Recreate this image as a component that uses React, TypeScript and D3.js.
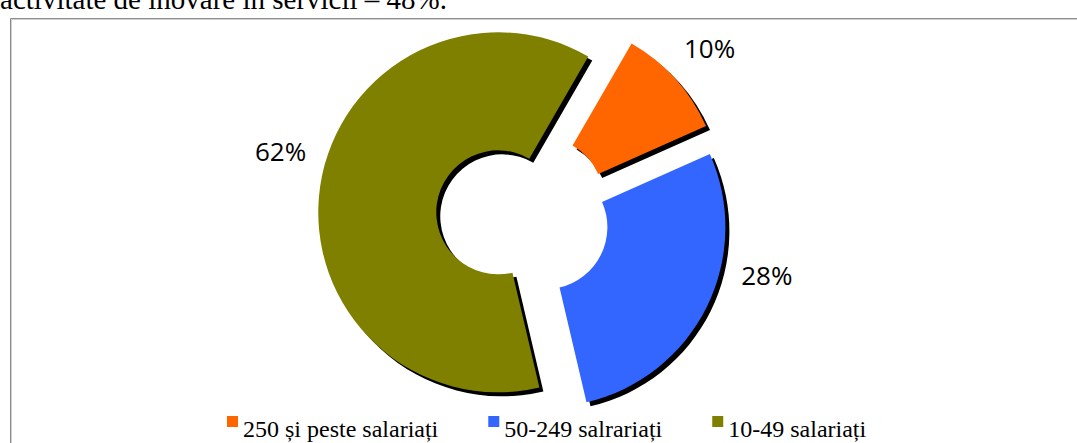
import React, { useEffect, useRef } from "react";
import * as d3 from "d3";

const categories = ["250 și peste salariați", "50-249 salrariați", "10-49 salariați"];
const values = [10, 28, 62];
const labels = ["10%", "28%", "62%"];
const colors = ["#FF6600", "#3366FF", "#808000"];
const labelAngleShift = [0, -12.7, 6.6];
const topText = "activitate de inovare în servicii – 48%.";

const W = 1077;
const H = 443;
const cx = 523;
const cy = 216;
const outerR = 180;
const innerR = 62;
const explode = 25;
const labelR = 251;
const startDeg = 30;

export default function App() {
  const ref = useRef<SVGSVGElement>(null);

  useEffect(() => {
    const svg = d3.select(ref.current);
    svg.selectAll("*").remove();

    const defs = svg.append("defs");
    const f = defs.append("filter").attr("id", "blurS").attr("x", "-10%").attr("y", "-10%").attr("width", "120%").attr("height", "120%");
    f.append("feGaussianBlur").attr("stdDeviation", 0.7);

    // top cut-off text
    svg.append("text")
      .attr("x", 447).attr("y", 9)
      .attr("text-anchor", "end")
      .attr("font-family", "'Liberation Serif', 'Times New Roman', serif")
      .attr("font-size", 29)
      .attr("fill", "#000")
      .text(topText);

    // frame
    svg.append("path")
      .attr("d", `M10.5,${H + 5} V18.5 H${W + 5}`)
      .attr("fill", "none").attr("stroke", "#8c8c8c").attr("stroke-width", 1);
    svg.append("path")
      .attr("d", `M11.5,${H + 5} V19.5 H${W + 5}`)
      .attr("fill", "none").attr("stroke", "#d0d0d0").attr("stroke-width", 1);

    const pie = d3.pie<number>().sort(null)
      .startAngle((startDeg * Math.PI) / 180)
      .endAngle((startDeg * Math.PI) / 180 + 2 * Math.PI);
    const arcs = pie(values);
    const arc = d3.arc<d3.PieArcDatum<number>>().innerRadius(innerR).outerRadius(outerR);

    const off = (a: d3.PieArcDatum<number>) => {
      const m = (a.startAngle + a.endAngle) / 2;
      return [explode * Math.sin(m), -explode * Math.cos(m)];
    };

    const g = svg.append("g").attr("transform", `translate(${cx},${cy})`);
    g.selectAll("path.sh").data(arcs).enter().append("path")
      .attr("class", "sh")
      .attr("d", arc as any)
      .attr("fill", "#000")
      .attr("filter", "url(#blurS)")
      .attr("transform", (d) => {
        const [x, y] = off(d);
        return `translate(${x + 4},${y + 4})`;
      });
    g.selectAll("path.sl").data(arcs).enter().append("path")
      .attr("class", "sl")
      .attr("d", arc as any)
      .attr("fill", (_, i) => colors[i])
      .attr("transform", (d) => {
        const [x, y] = off(d);
        return `translate(${x},${y})`;
      });

    g.selectAll("text.lb").data(arcs).enter().append("text")
      .attr("class", "lb")
      .attr("x", (d, i) => labelR * Math.sin((d.startAngle + d.endAngle) / 2 + (labelAngleShift[i] * Math.PI) / 180))
      .attr("y", (d, i) => -labelR * Math.cos((d.startAngle + d.endAngle) / 2 + (labelAngleShift[i] * Math.PI) / 180))
      .attr("text-anchor", "middle")
      .attr("dominant-baseline", "central")
      .attr("font-family", "'Open Sans', sans-serif")
      .attr("font-size", 26)
      .attr("fill", "#000")
      .text((_, i) => labels[i]);

    // legend
    const lg = svg.append("g");
    let x = 227;
    const sq = 11;
    categories.forEach((c, i) => {
      lg.append("rect").attr("x", x).attr("y", 416).attr("width", sq).attr("height", sq).attr("fill", colors[i]);
      const t = lg.append("text")
        .attr("x", x + sq + 5).attr("y", 437)
        .attr("font-family", "'Liberation Serif', 'Times New Roman', serif")
        .attr("font-size", 24)
        .attr("fill", "#000")
        .text(c);
      const w = (t.node() as SVGTextElement).getComputedTextLength();
      x += sq + 5 + w + 50;
    });
  }, []);

  return (
    <svg
      ref={ref}
      width={W}
      height={H}
      style={{ position: "absolute", left: 0, top: 0, background: "#fff" }}
    />
  );
}
